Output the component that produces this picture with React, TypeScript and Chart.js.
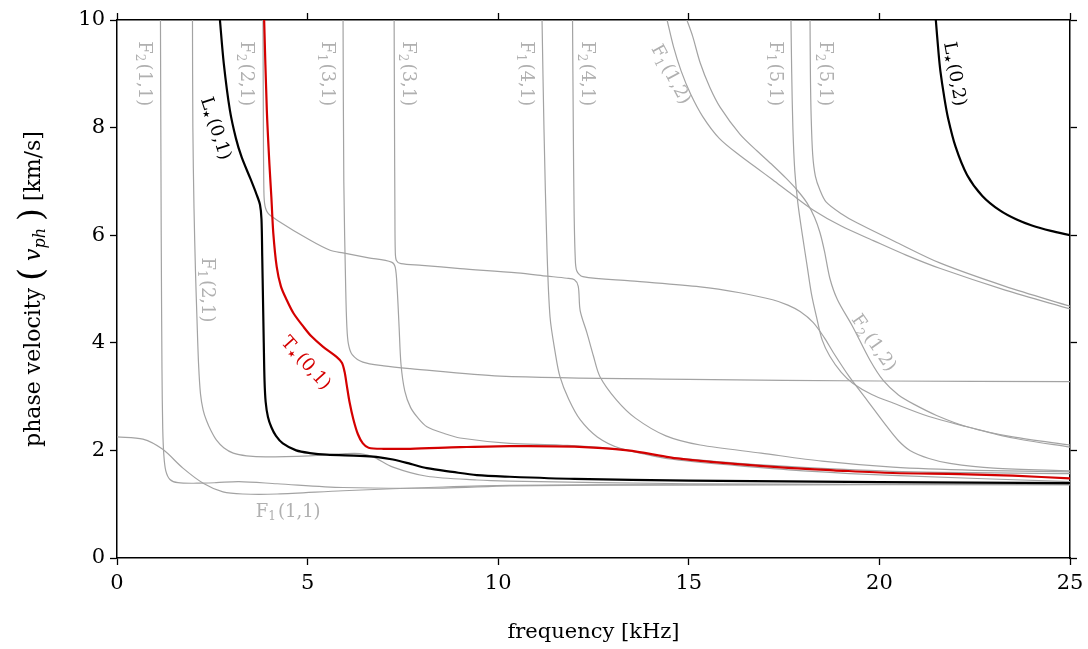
import React, { useEffect, useRef } from "react";
import { Chart, registerables } from "chart.js";

Chart.register(...registerables);

type P = [number, number];

// ---- Data: each curve as [frequency kHz, phase velocity km/s] ----
const L_01: P[] = [[2.70,10],[2.80,9.2],[2.96,8.33],[3.12,7.8],[3.27,7.45],[3.5,7.05],[3.66,6.76],[3.75,6.57],[3.79,6.3],[3.81,5.6],[3.83,4.8],[3.85,4.0],[3.87,3.3],[3.9,2.9],[3.96,2.62],[4.05,2.43],[4.17,2.27],[4.35,2.13],[4.7,2.0],[5.06,1.95],[5.5,1.92],[6.37,1.9],[6.8,1.88],[7.24,1.83],[7.7,1.75],[8.13,1.67],[8.8,1.6],[9.44,1.54],[10.3,1.51],[12,1.47],[15,1.44],[20,1.41],[25,1.39]];
const T_01: P[] = [[3.86,10],[3.93,8.33],[4.0,7.3],[4.05,6.7],[4.1,6.04],[4.19,5.41],[4.3,5.05],[4.45,4.8],[4.63,4.55],[4.89,4.3],[5.1,4.12],[5.4,3.93],[5.76,3.74],[5.9,3.63],[5.97,3.46],[6.03,3.2],[6.1,2.9],[6.2,2.58],[6.32,2.3],[6.45,2.13],[6.6,2.05],[7.0,2.03],[7.69,2.03],[9,2.06],[10.3,2.08],[12,2.07],[13.4,2.0],[14.5,1.87],[15.1,1.82],[16.2,1.75],[17.7,1.67],[18.8,1.63],[20.35,1.58],[22.1,1.56],[23.5,1.53],[25,1.48]];
const L_02: P[] = [[21.48,10],[21.55,9.4],[21.6,9.05],[21.7,8.57],[21.8,8.18],[22.0,7.64],[22.3,7.12],[22.7,6.73],[23.16,6.46],[23.6,6.29],[24.0,6.18],[24.5,6.08],[25,6.0]];

const F1_11: P[] = [[0,2.25],[0.68,2.21],[1.2,2.02],[1.73,1.67],[2.26,1.39],[2.78,1.23],[3.3,1.19],[4.2,1.19],[5.93,1.25],[8.55,1.32],[10.3,1.35],[15,1.36],[25,1.37]];
const F2_11: P[] = [[1.14,10],[1.16,6],[1.18,3.5],[1.2,2.4],[1.23,1.9],[1.28,1.62],[1.39,1.46],[1.6,1.4],[2.1,1.39],[2.6,1.4],[3.2,1.42],[4.2,1.38],[5.93,1.31],[8.55,1.3],[10.3,1.34],[15,1.36],[25,1.37]];
const F1_21: P[] = [[1.98,10],[1.99,8],[2.02,6.5],[2.06,5.3],[2.1,4.4],[2.14,3.6],[2.19,3.05],[2.26,2.75],[2.35,2.55],[2.47,2.36],[2.61,2.19],[2.8,2.05],[3.05,1.95],[3.4,1.9],[3.9,1.88],[5.06,1.9],[6.0,1.94],[6.37,1.94],[6.72,1.88],[7.24,1.69],[8.13,1.52],[9.44,1.45],[10.3,1.43],[15,1.38],[25,1.36]];
const F2_21: P[] = [[3.83,10],[3.84,8],[3.85,7],[3.87,6.6],[3.95,6.42],[4.2,6.28],[5.06,5.91],[5.59,5.72],[5.93,5.67],[6.6,5.58],[7.2,5.5],[7.3,5.4],[7.35,5.0],[7.4,4.3],[7.45,3.6],[7.55,3.1],[7.7,2.8],[7.9,2.6],[8.13,2.44],[8.6,2.31],[9.0,2.23],[10.3,2.13],[11.62,2.1],[13.2,2.02],[14.5,1.84],[16.2,1.72],[18,1.62],[20.5,1.53],[25,1.42]];
const F1_31: P[] = [[5.93,10],[5.95,7],[6.0,5],[6.03,4.3],[6.07,3.98],[6.17,3.78],[6.45,3.64],[7.0,3.57],[7.69,3.52],[10.05,3.38],[15,3.32],[20,3.29],[25,3.28]];
const F2_31: P[] = [[7.27,10],[7.28,8],[7.29,6.5],[7.3,5.7],[7.33,5.53],[7.45,5.47],[8,5.44],[9,5.38],[10.5,5.3],[11.28,5.24],[11.8,5.2],[12.0,5.17],[12.1,5.05],[12.15,4.6],[12.33,4.18],[12.5,3.75],[12.67,3.37],[13.1,2.94],[13.6,2.6],[14.4,2.27],[15.3,2.1],[16.9,1.95],[18.5,1.8],[20.35,1.69],[22.5,1.63],[25,1.6]];
const F1_41: P[] = [[11.15,10],[11.2,8],[11.28,5.72],[11.36,4.48],[11.5,3.8],[11.62,3.37],[11.85,2.95],[12.15,2.57],[12.6,2.25],[13.2,2.04],[14.24,1.9],[15.3,1.82],[16.9,1.73],[20.35,1.61],[25,1.57]];
const F2_41: P[] = [[11.95,10],[11.97,8],[11.99,6.5],[12.02,5.6],[12.06,5.34],[12.22,5.23],[13.46,5.15],[15.3,5.04],[16.34,4.93],[17.2,4.8],[17.6,4.7],[17.92,4.58],[18.26,4.38],[18.55,4.1],[18.79,3.82],[19.2,3.38],[19.67,2.94],[20.2,2.44],[20.5,2.18],[20.8,2.0],[21.3,1.85],[21.85,1.76],[23,1.67],[25,1.62]];
const F1_51: P[] = [[17.68,10],[17.7,9],[17.73,8],[17.78,7.2],[17.86,6.6],[17.98,6.0],[18.1,5.45],[18.22,4.9],[18.36,4.45],[18.5,4.05],[18.7,3.75],[19.0,3.45],[19.3,3.25],[19.8,3.04],[20.36,2.88],[21.3,2.63],[22.3,2.44],[23.5,2.23],[25,2.06]];
const F2_51: P[] = [[18.18,10],[18.19,9],[18.21,8.2],[18.25,7.5],[18.32,7.1],[18.44,6.84],[18.6,6.62],[19.0,6.4],[19.41,6.23],[20.5,5.85],[21.6,5.48],[23.3,5.05],[25,4.68]];
const F1_12: P[] = [[14.43,10],[14.6,9.5],[14.8,9.05],[15.05,8.62],[15.37,8.2],[15.8,7.8],[16.34,7.48],[16.8,7.24],[17.2,7.03],[17.7,6.76],[18.26,6.47],[19.0,6.17],[19.84,5.9],[20.7,5.63],[21.6,5.38],[23.3,4.98],[25,4.63]];
const F2_12: P[] = [[14.95,10],[15.1,9.7],[15.3,9.2],[15.55,8.75],[15.82,8.38],[16.34,7.88],[16.8,7.56],[17.2,7.3],[17.55,7.06],[17.84,6.84],[18.1,6.6],[18.3,6.33],[18.44,6.05],[18.56,5.7],[18.7,5.2],[18.9,4.8],[19.3,4.3],[19.75,3.68],[20.1,3.3],[20.5,3.03],[20.9,2.86],[21.5,2.65],[22.3,2.44],[23.5,2.25],[25,2.1]];

const GRAY_CURVES: P[][] = [F1_11, F2_11, F1_21, F2_21, F1_31, F2_31, F1_41, F2_41, F1_51, F2_51, F1_12, F2_12];

const X_TICKS = [0, 5, 10, 15, 20, 25];
const Y_TICKS = [0, 2, 4, 6, 8, 10];

// curve labels: [main, subscript, rest]
const LABEL_TEXT = [
  ["F", "2", "(1,1)"], ["F", "2", "(2,1)"], ["F", "1", "(3,1)"], ["F", "2", "(3,1)"],
  ["F", "1", "(4,1)"], ["F", "2", "(4,1)"], ["F", "1", "(1,2)"], ["F", "1", "(5,1)"],
  ["F", "2", "(5,1)"], ["F", "1", "(2,1)"], ["F", "1", "(1,1)"], ["F", "2", "(1,2)"],
  ["L", "\u2605", "(0,2)"], ["L", "\u2605", "(0,1)"], ["T", "\u2605", "(0,1)"],
];

const FONT = '"DejaVu Serif", serif';
const GRAY_LINE = "#a3a3a3";
const GRAY_TEXT = "#b0b0b0";
const RED = "#d40000";

const LABEL_POS: { f: number; v: number; a: number; c: string }[] = [
  { f: 0.76, v: 9.0, a: 90, c: GRAY_TEXT },
  { f: 3.42, v: 9.0, a: 90, c: GRAY_TEXT },
  { f: 5.54, v: 9.0, a: 90, c: GRAY_TEXT },
  { f: 7.66, v: 9.0, a: 90, c: GRAY_TEXT },
  { f: 10.76, v: 9.0, a: 90, c: GRAY_TEXT },
  { f: 12.36, v: 9.0, a: 90, c: GRAY_TEXT },
  { f: 14.56, v: 9.0, a: 62, c: GRAY_TEXT },
  { f: 17.31, v: 9.0, a: 90, c: GRAY_TEXT },
  { f: 18.6, v: 9.0, a: 90, c: GRAY_TEXT },
  { f: 2.39, v: 4.98, a: 90, c: GRAY_TEXT },
  { f: 4.49, v: 0.89, a: 0, c: GRAY_TEXT },
  { f: 19.88, v: 4.01, a: 55, c: GRAY_TEXT },
  { f: 22.01, v: 9.0, a: 80, c: "#000" },
  { f: 2.62, v: 7.99, a: 72, c: "#000" },
  { f: 4.98, v: 3.64, a: 48, c: RED },
];

function drawRich(ctx: CanvasRenderingContext2D, x: number, y: number, angle: number, parts: string[], color: string, size: number) {
  const [main, sub, rest] = parts;
  const isStar = sub === "\u2605";
  ctx.save();
  ctx.translate(x, y);
  ctx.rotate((angle * Math.PI) / 180);
  ctx.fillStyle = color;
  ctx.textBaseline = "alphabetic";
  ctx.textAlign = "left";
  const mainFont = `${size}px ${FONT}`;
  const subFont = isStar ? `${Math.round(size * 0.5)}px "DejaVu Sans", sans-serif` : `${Math.round(size * 0.68)}px ${FONT}`;
  ctx.font = mainFont;
  const wMain = ctx.measureText(main).width;
  const wRest = ctx.measureText(rest).width;
  ctx.font = subFont;
  const wSub = ctx.measureText(sub).width;
  const gap = size * 0.12;
  const total = wMain + wSub + gap + wRest;
  let sx = -total / 2;
  const by = size * 0.36;
  ctx.font = mainFont;
  ctx.fillText(main, sx, by);
  sx += wMain;
  ctx.font = subFont;
  ctx.fillText(sub, sx, by + size * (isStar ? 0.12 : 0.2));
  sx += wSub + gap;
  ctx.font = mainFont;
  ctx.fillText(rest, sx, by);
  ctx.restore();
}

function drawYTitle(ctx: CanvasRenderingContext2D, cx: number, cy: number, size: number) {
  const segs: { t: string; font: string; dy: number }[] = [
    { t: "phase velocity ", font: `${size}px ${FONT}`, dy: 0 },
    { t: "(", font: `${Math.round(size * 1.5)}px ${FONT}`, dy: size * 0.1 },
    { t: " ", font: `${size}px ${FONT}`, dy: 0 },
    { t: "v", font: `italic ${size}px ${FONT}`, dy: 0 },
    { t: "ph", font: `italic ${Math.round(size * 0.72)}px ${FONT}`, dy: size * 0.25 },
    { t: " ", font: `${size}px ${FONT}`, dy: 0 },
    { t: ")", font: `${Math.round(size * 1.5)}px ${FONT}`, dy: size * 0.1 },
    { t: " [km/s]", font: `${size}px ${FONT}`, dy: 0 },
  ];
  ctx.save();
  ctx.translate(cx, cy);
  ctx.rotate(-Math.PI / 2);
  ctx.fillStyle = "#000";
  ctx.textBaseline = "alphabetic";
  ctx.textAlign = "left";
  let total = 0;
  const widths = segs.map((s) => {
    ctx.font = s.font;
    const w = ctx.measureText(s.t).width;
    total += w;
    return w;
  });
  let x = -total / 2;
  const by = size * 0.36;
  segs.forEach((s, i) => {
    ctx.font = s.font;
    ctx.fillText(s.t, x, by + s.dy);
    x += widths[i];
  });
  ctx.restore();
}

const annotations = {
  id: "annotations",
  afterDatasetsDraw(chart: any) {
    const ctx = chart.ctx as CanvasRenderingContext2D;
    const xs = chart.scales.x;
    const ys = chart.scales.y;
    LABEL_TEXT.forEach((parts, i) => {
      const p = LABEL_POS[i];
      drawRich(ctx, xs.getPixelForValue(p.f), ys.getPixelForValue(p.v), p.a, parts, p.c, 18);
    });
  },
  afterDraw(chart: any) {
    const ctx = chart.ctx as CanvasRenderingContext2D;
    const a = chart.chartArea;
    ctx.save();
    ctx.fillStyle = "#000";
    ctx.font = `21px ${FONT}`;
    ctx.textAlign = "center";
    ctx.textBaseline = "middle";
    ctx.fillText("frequency [kHz]", (a.left + a.right) / 2, 633);
    ctx.restore();
    drawYTitle(ctx, 32, (a.top + a.bottom) / 2, 22);
  },
};

const W = 1088;
const H = 649;

export default function App() {
  const ref = useRef<HTMLCanvasElement | null>(null);
  useEffect(() => {
    if (!ref.current) return;
    const toPts = (c: P[]) => c.map(([x, y]) => ({ x, y }));
    const datasets: any[] = [
      { data: toPts(L_01), borderColor: "#000", borderWidth: 2.2, order: 0 },
      { data: toPts(L_02), borderColor: "#000", borderWidth: 2.2, order: 0 },
      { data: toPts(T_01), borderColor: RED, borderWidth: 2.2, order: 0 },
      ...GRAY_CURVES.map((c) => ({ data: toPts(c), borderColor: GRAY_LINE, borderWidth: 1.2, order: 1 })),
    ].map((d) => ({ ...d, showLine: true, pointRadius: 0, pointHoverRadius: 0, tension: 0.3, fill: false }));

    const tickFont = { family: FONT, size: 21 };
    const grid = { drawOnChartArea: false, drawTicks: true, tickLength: 7, tickWidth: 1.3, tickColor: "#000" };
    const border = { display: true, color: "#000", width: 1.5 };
    const setX = (s: any) => { s.ticks = X_TICKS.map((v) => ({ value: v })); };
    const setY = (s: any) => { s.ticks = Y_TICKS.map((v) => ({ value: v })); };

    const chart = new Chart(ref.current, {
      type: "scatter",
      data: { datasets },
      options: {
        animation: false,
        responsive: false,
        maintainAspectRatio: false,
        devicePixelRatio: 1,
        layout: { padding: 0 },
        plugins: { legend: { display: false }, tooltip: { enabled: false } },
        events: [],
        scales: {
          x: {
            type: "linear", position: "bottom", min: 0, max: 25,
            afterBuildTicks: setX,
            ticks: { color: "#000", font: tickFont, padding: 6, maxRotation: 0, autoSkip: false },
            grid, border,
            afterFit: (s: any) => { s.height = 91; s.paddingLeft = 0; s.paddingRight = 0; },
          },
          x2: {
            type: "linear", position: "top", min: 0, max: 25,
            afterBuildTicks: setX,
            ticks: { display: false },
            grid, border,
            afterFit: (s: any) => { s.height = 20; s.paddingLeft = 0; s.paddingRight = 0; },
          },
          y: {
            type: "linear", position: "left", min: 0, max: 10,
            afterBuildTicks: setY,
            ticks: { color: "#000", font: tickFont, padding: 5 },
            grid, border,
            afterFit: (s: any) => { s.width = 117; s.paddingTop = 0; s.paddingBottom = 0; },
          },
          y2: {
            type: "linear", position: "right", min: 0, max: 10,
            afterBuildTicks: setY,
            ticks: { display: false },
            grid, border,
            afterFit: (s: any) => { s.width = 18; s.paddingTop = 0; s.paddingBottom = 0; },
          },
        },
      } as any,
      plugins: [annotations],
    });
    return () => chart.destroy();
  }, []);
  return (
    <div style={{ position: "absolute", left: 0, top: 0, width: W, height: H, overflow: "hidden" }}>
      <canvas ref={ref} width={W} height={H} style={{ display: "block", width: W, height: H }} />
    </div>
  );
}
